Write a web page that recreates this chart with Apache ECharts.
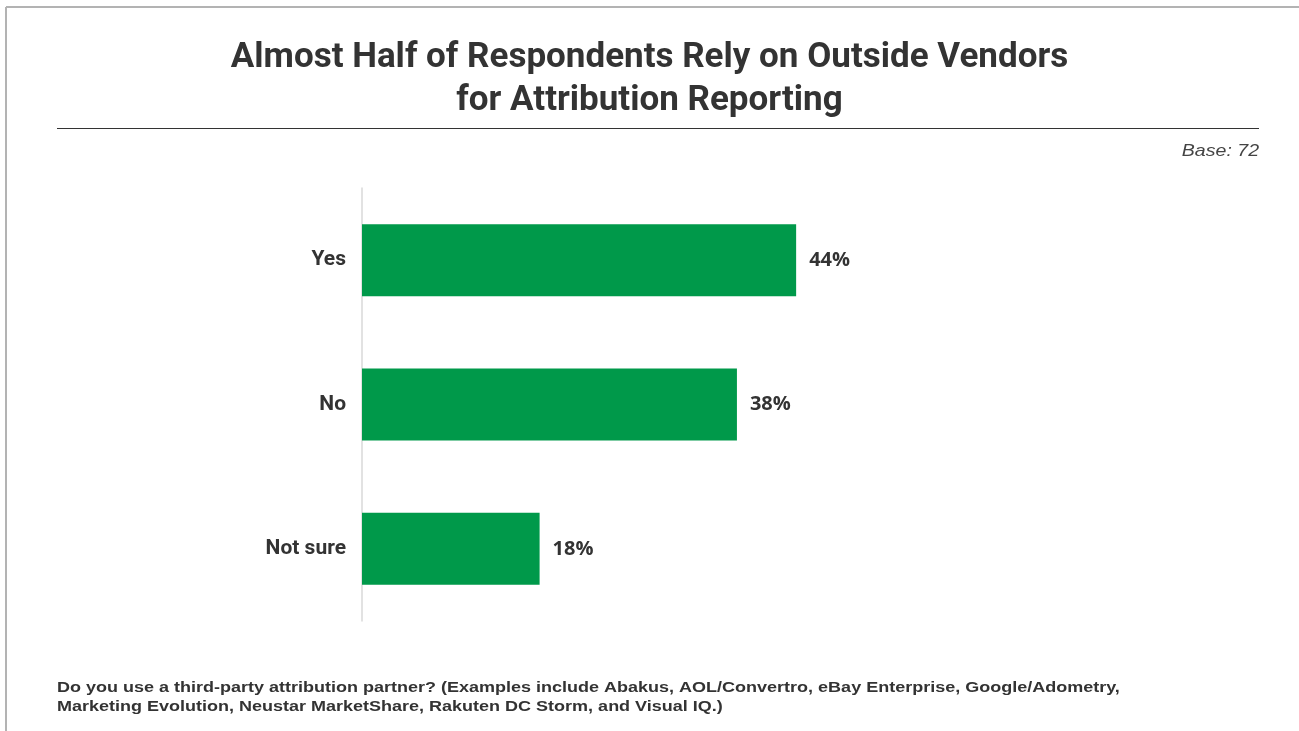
<!DOCTYPE html>
<html>
<head>
<meta charset="utf-8">
<script src="https://cdn.jsdelivr.net/npm/echarts@6/dist/echarts.min.js"></script>
<style>
    html, body {
        margin: 0;
        padding: 0;
        background: #fff;
    }
    #mychart {
        width: 1299px;
        height: 731px;
    }
</style>
</head>
<body>
<div id="mychart"></div>
<script>
const categories = ['Yes', 'No', 'Not sure'];
const shares = [44, 38, 18];
const baseText = 'Base: 72';
const titleLines = ['Almost Half of Respondents Rely on Outside Vendors', 'for Attribution Reporting'];
const questionLines = [
    'Do you use a third-party attribution partner? (Examples include Abakus, AOL/Convertro, eBay Enterprise, Google/Adometry,',
    'Marketing Evolution, Neustar MarketShare, Rakuten DC Storm, and Visual IQ.)'
];

const gothic = 'Roboto, "Liberation Sans", sans-serif';
const arial = '"Liberation Sans", Arial, sans-serif';

let option = {
    backgroundColor: '#fff',
    title: {
        text: titleLines.join('\n'),
        left: 'center',
        top: 32,
        textStyle: {
            fontFamily: gothic,
            fontSize: 35,
            fontWeight: 'bold',
            color: '#333',
            lineHeight: 43
        }
    },
    graphic: [
        // frame
        {type: 'line', shape: {x1: 6, y1: 7, x2: 1299, y2: 7}, style: {stroke: '#b3b3b3', lineWidth: 2}},
        {type: 'line', shape: {x1: 6, y1: 7, x2: 6, y2: 731}, style: {stroke: '#b3b3b3', lineWidth: 2}},
        // rule under the title
        {type: 'line', shape: {x1: 57, y1: 128.5, x2: 1259, y2: 128.5}, style: {stroke: '#333', lineWidth: 1.2}},
        {
            type: 'text', x: 1259, y: 143, scaleX: 1.15,
            style: {text: baseText, font: 'italic 17px ' + arial, fill: '#444', align: 'right', verticalAlign: 'top'}
        },
        {
            type: 'text', x: 57, y: 678, scaleX: 1.2,
            style: {
                text: questionLines.join('\n'),
                font: 'bold 15px ' + arial,
                lineHeight: 19,
                fill: '#333',
                align: 'left',
                verticalAlign: 'top'
            }
        }
    ],
    grid: {
        left: 362,
        top: 188,
        width: 592,
        height: 433
    },
    xAxis: {
        type: 'value',
        min: 0,
        max: 60,
        show: false
    },
    yAxis: {
        type: 'category',
        inverse: true,
        data: categories,
        axisLine: {show: true, lineStyle: {color: '#d9d9d9', width: 1.5}},
        axisTick: {show: false},
        axisLabel: {
            margin: 16,
            fontFamily: gothic,
            fontSize: 21,
            fontWeight: 'bold',
            color: '#333'
        }
    },
    series: [{
        type: 'bar',
        data: shares,
        barWidth: 72,
        itemStyle: {color: '#00994a'},
        label: {
            show: true,
            position: 'right',
            distance: 13,
            formatter: '{c}%',
            fontFamily: '"Open Sans", Roboto, sans-serif',
            fontSize: 20,
            fontWeight: 'bold',
            color: '#333'
        },
        silent: true
    }]
};

let myChart = echarts.init(document.getElementById('mychart'), null, {renderer: 'canvas'});
myChart.setOption(option);
</script>
</body>
</html>
